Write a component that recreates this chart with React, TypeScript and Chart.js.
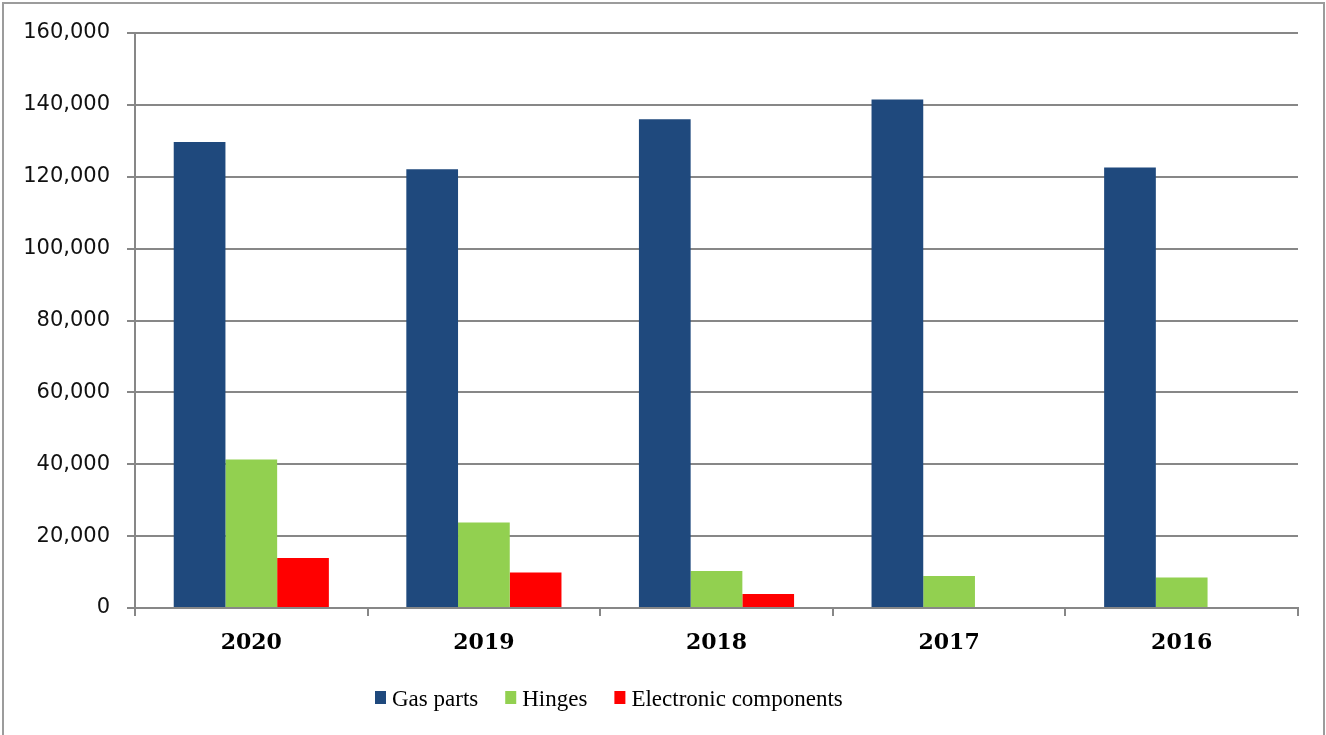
import React, { useEffect, useRef } from "react";
import { Chart, registerables } from "chart.js";

Chart.register(...registerables);

const categories = ["2020", "2019", "2018", "2017", "2016"];
const gasParts = [129700, 122100, 136000, 141500, 122600];
const hinges = [41300, 23800, 10300, 8900, 8500];
const electronicComponents = [13900, 9900, 3900, 0, 0];
const seriesNames = ["Gas parts", "Hinges", "Electronic components"];
const seriesColors = ["#1F497D", "#92D050", "#FF0000"];

const GRID = "#878787";

// Legend row along the bottom, drawn on the canvas
const bottomLegend = {
  id: "bottomLegend",
  afterDraw(chart: any) {
    const { ctx } = chart;
    ctx.save();
    ctx.font = "23px 'Liberation Serif'";
    ctx.textBaseline = "alphabetic";
    ctx.textAlign = "left";
    let x = 375;
    chart.data.datasets.forEach((ds: any) => {
      ctx.fillStyle = ds.backgroundColor;
      ctx.fillRect(x, 691, 11, 13);
      x += 11 + 6;
      ctx.fillStyle = "#000";
      ctx.fillText(ds.label, x, 706);
      x += ctx.measureText(ds.label).width + 27;
    });
    ctx.restore();
  },
};

// Light grey frame around the whole figure
const frame = {
  id: "frame",
  beforeDraw(chart: any) {
    const { ctx } = chart;
    ctx.save();
    ctx.fillStyle = "#fff";
    ctx.fillRect(0, 0, chart.width, chart.height);
    ctx.strokeStyle = "#9c9c9c";
    ctx.lineWidth = 2;
    ctx.strokeRect(3, 3, 1321, 740);
    ctx.restore();
  },
};

export default function App() {
  const canvasRef = useRef<HTMLCanvasElement>(null);

  useEffect(() => {
    const canvas = canvasRef.current;
    if (!canvas) return;
    const values = [gasParts, hinges, electronicComponents];
    const chart = new Chart(canvas, {
      type: "bar",
      data: {
        labels: categories,
        datasets: seriesNames.map((name, i) => ({
          label: name,
          data: values[i],
          backgroundColor: seriesColors[i],
          borderWidth: 0,
          categoryPercentage: 0.667,
          barPercentage: 1.0,
        })),
      },
      options: {
        responsive: false,
        animation: false,
        layout: { padding: { top: 33, right: 28, left: 0, bottom: 0 } },
        plugins: {
          legend: { display: false },
          tooltip: { enabled: false },
        },
        scales: {
          x: {
            afterFit: (scale: any) => {
              scale.height = 127;
            },
            grid: {
              display: true,
              drawOnChartArea: false,
              drawTicks: true,
              tickLength: 8,
              color: GRID,
              lineWidth: 2,
              offset: true,
            },
            border: { display: true, color: GRID, width: 2 },
            ticks: {
              color: "#000",
              font: { family: "'DejaVu Serif'", size: 22, weight: "bold" },
              padding: 14,
            },
          },
          y: {
            min: 0,
            max: 160000,
            afterFit: (scale: any) => {
              scale.width = 135;
            },
            grid: {
              color: GRID,
              lineWidth: 2,
              tickLength: 8,
              drawTicks: true,
            },
            border: { display: true, color: GRID, width: 2 },
            ticks: {
              stepSize: 20000,
              color: "#111",
              font: { family: "'DejaVu Sans'", size: 21 },
              padding: 17,
              callback: (v: any) => Number(v).toLocaleString("en-US"),
            },
          },
        },
      },
      plugins: [frame, bottomLegend],
    });
    return () => chart.destroy();
  }, []);

  return (
    <div style={{ position: "fixed", left: 0, top: 0, width: 1326, height: 735 }}>
      <canvas ref={canvasRef} width={1326} height={735} style={{ display: "block" }} />
    </div>
  );
}
